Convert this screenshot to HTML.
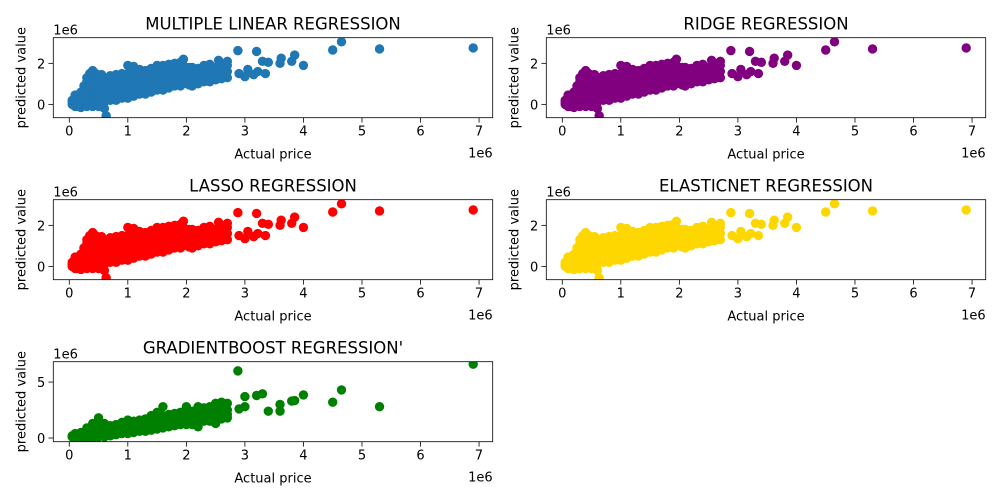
<!DOCTYPE html>
<html><head><meta charset="utf-8"><style>
html,body{margin:0;padding:0;background:#fff;}
svg{display:block;font-family:"DejaVu Sans","Liberation Sans",sans-serif;}
</style></head><body>
<svg id="fig" width="1000" height="500" viewBox="0 0 1000 500" xmlns="http://www.w3.org/2000/svg"></svg>
<script>
// Linear-type models: grouped columns [actual, [predicted...]] (units 1e6)
const linColumns = [
[0.05,[0,0.1,0.2]],[0.1,[-0.1,0.1,0.3,0.45]],[0.15,[-0.1,0.2,0.4]],[0.2,[-0.15,0.1,0.4,0.6]],
[0.25,[0,0.3,0.6,0.9]],[0.3,[-0.1,0.2,0.5,0.8,1.1,1.3]],[0.35,[0,0.3,0.6,0.9,1.2,1.5]],
[0.4,[-0.1,0.2,0.5,0.8,1.1,1.4,1.65]],[0.45,[0,0.3,0.6,0.9,1.2,1.5]],[0.5,[-0.1,0.2,0.5,0.8,1.1,1.4]],
[0.55,[0.1,0.4,0.7,1.0,1.3,1.45]],[0.6,[-0.2,0.1,0.4,0.7,1.0,1.3]],[0.63,[-0.55]],
[0.7,[0.2,0.5,0.8,1.1,1.4]],[0.8,[0.2,0.5,0.8,1.1,1.45]],[0.9,[0.3,0.6,0.9,1.2,1.5]],
[1.0,[0.3,0.6,0.9,1.2,1.5,1.9]],[1.1,[0.4,0.7,1.0,1.3,1.6,1.85]],[1.2,[0.5,0.8,1.1,1.4,1.7]],
[1.3,[0.5,0.8,1.1,1.4,1.65]],[1.4,[0.6,0.9,1.2,1.5,1.75]],[1.5,[0.7,1.0,1.3,1.6,1.9]],
[1.6,[0.7,1.0,1.3,1.6,1.9]],[1.7,[0.8,1.1,1.4,1.7,1.95]],[1.8,[0.9,1.2,1.5,1.8,2.0]],
[1.9,[0.9,1.2,1.5,1.8,2.05]],[1.95,[1.0,1.3,1.6,1.9,2.2]],[2.05,[0.95,1.2,1.5,1.8]],
[2.1,[0.9,1.25,1.55,1.8]],[2.2,[1.0,1.3,1.6,1.75]],[2.3,[1.1,1.4,1.7,1.9]],[2.4,[1.1,1.4,1.7,1.95]],
[2.5,[1.2,1.45,1.8]],[2.55,[1.3,1.6,2.15]],[2.6,[1.25,1.5,1.75,2.0]],[2.7,[1.3,1.6,1.9,2.1]],
[2.88,[2.62]],[2.9,[1.5]],[3.0,[1.35]],[3.05,[1.7]],[3.15,[1.45]],[3.2,[2.58]],[3.22,[1.6]],
[3.3,[2.1]],[3.35,[1.5]],[3.4,[2.05]],[3.6,[2.0]],[3.62,[2.25]],[3.8,[2.1]],[3.85,[2.4]],
[4.0,[1.9]],[4.5,[2.65]],[4.65,[3.05]],[5.3,[2.7]],[6.9,[2.75]]
];
// Gradient boosting columns
const gbColumns = [
[0.05,[0.1,0.2]],[0.1,[0,0.2,0.4]],[0.2,[0,0.2,0.5]],[0.3,[0,0.3,0.6,0.9]],[0.4,[0,0.3,0.6,1.0,1.3]],
[0.5,[0.1,0.4,0.8,1.2,1.8]],[0.6,[0.1,0.4,0.7,1.1,1.3]],[0.7,[0.2,0.5,0.8,1.1]],[0.8,[0.3,0.6,0.9,1.2]],
[0.9,[0.4,0.7,1.0,1.4]],[1.0,[0.4,0.7,1.0,1.4,1.6]],[1.1,[0.5,0.8,1.1,1.5]],[1.2,[0.6,0.9,1.2,1.6]],
[1.3,[0.6,1.0,1.3,1.7]],[1.4,[0.7,1.0,1.4,1.8,2.0]],[1.5,[0.8,1.1,1.5,1.9,2.3]],[1.6,[0.9,1.2,1.6,2.0,2.8]],
[1.7,[1.0,1.3,1.7,2.1]],[1.8,[1.1,1.4,1.8,2.2]],[1.9,[1.2,1.5,1.9,2.3]],[2.0,[1.2,1.6,2.0,2.4,2.8]],
[2.1,[1.2,1.6,2.0,2.4]],[2.2,[1.0,1.4,1.8,2.3,2.8]],[2.3,[1.5,1.9,2.3,2.7]],[2.4,[1.5,1.9,2.3,2.8]],
[2.5,[1.3,1.8,2.2,2.7,3.1]],[2.6,[1.7,2.1,2.5,2.9,3.2]],[2.7,[1.8,2.1,2.5,3.1]],
[2.88,[6.0]],[2.9,[2.6]],[3.0,[3.7,2.8]],[3.2,[3.8]],[3.3,[3.95]],[3.4,[2.4]],[3.6,[3.0,2.4]],
[3.8,[3.3]],[3.85,[3.35]],[4.0,[3.85]],[4.5,[3.2]],[4.65,[4.3]],[5.3,[2.8]],[6.9,[6.6]]
];
const xTicks = [0,1,2,3,4,5,6,7];
const yTicksLin = [0,2];
const yTicksGb = [0,5];
const titles = ["MULTIPLE LINEAR REGRESSION","RIDGE REGRESSION","LASSO REGRESSION","ELASTICNET REGRESSION","GRADIENTBOOST REGRESSION'"];
const colors = ["#1f77b4","purple","red","gold","green"];

const NS="http://www.w3.org/2000/svg";
const svg=document.getElementById('fig');
function mk(tag,attrs,parent){const e=document.createElementNS(NS,tag);for(const k in attrs)e.setAttribute(k,attrs[k]);(parent||svg).appendChild(e);return e;}

const W=439.4,H=80;
const panels=[
 {x:53.3,y:37.7,data:linColumns,yt:yTicksLin,ylim:[-0.65,3.25]},
 {x:546.3,y:37.7,data:linColumns,yt:yTicksLin,ylim:[-0.65,3.25]},
 {x:53.3,y:199.7,data:linColumns,yt:yTicksLin,ylim:[-0.65,3.25]},
 {x:546.3,y:199.7,data:linColumns,yt:yTicksLin,ylim:[-0.65,3.25]},
 {x:53.3,y:361.7,data:gbColumns,yt:yTicksGb,ylim:[-0.33,6.82]}
];
const xlim=[-0.273,7.233];
panels.forEach((p,i)=>{
  const g=mk('g',{});
  
  
  const sx=v=>p.x+(v-xlim[0])/(xlim[1]-xlim[0])*W;
  const sy=v=>p.y+H-(v-p.ylim[0])/(p.ylim[1]-p.ylim[0])*H;
  const clip=mk('clipPath',{id:'c'+i},g);
  mk('rect',{x:p.x,y:p.y,width:W,height:H},clip);
  const pts=mk('g',{'clip-path':'url(#c'+i+')'},g);
  
  
  p.data.forEach(col=>col[1].forEach(v=>{
    const c=mk('circle',{cx:sx(col[0]),cy:sy(v),r:4.7,fill:colors[i]},pts);
    
    
  }));
  const fr=mk('rect',{x:p.x,y:p.y,width:W,height:H,fill:'none',stroke:'#000','stroke-width':0.8},g);
  
  
  xTicks.forEach(t=>{
    mk('line',{x1:sx(t),x2:sx(t),y1:p.y+H,y2:p.y+H+4.9,stroke:'#000','stroke-width':0.8},g);
    const tl=mk('text',{x:sx(t),y:p.y+H+18,'text-anchor':'middle','font-size':13,fill:'#000'},g);
    tl.textContent=t;
    
    
  });
  p.yt.forEach(t=>{
    mk('line',{x1:p.x-4.9,x2:p.x,y1:sy(t),y2:sy(t),stroke:'#000','stroke-width':0.8},g);
    const tl=mk('text',{x:p.x-8,y:sy(t)+5,'text-anchor':'end','font-size':13,fill:'#000'},g);
    tl.textContent=t;
    
    
  });
  const ti=mk('text',{x:p.x+W/2,y:p.y-8,'text-anchor':'middle','font-size':16.5,fill:'#000'},g);
  ti.textContent=titles[i];
  
  
  const yo=mk('text',{x:p.x,y:p.y-3,'font-size':13,fill:'#000'},g);
  yo.textContent='1e6';
  
  
  const xo=mk('text',{x:p.x+W,y:p.y+H+40,'text-anchor':'end','font-size':13,fill:'#000'},g);
  xo.textContent='1e6';
  
  
  const xl=mk('text',{x:p.x+W/2,y:p.y+H+41,'text-anchor':'middle','font-size':13,fill:'#000'},g);
  xl.textContent='Actual price';
  
  
  const yl=mk('text',{x:0,y:0,'text-anchor':'middle','font-size':13,fill:'#000',transform:'translate('+(p.x-28)+','+(p.y+H/2)+') rotate(-90)'},g);
  yl.textContent='predicted value';
  
  
});
</script>
</body></html>
